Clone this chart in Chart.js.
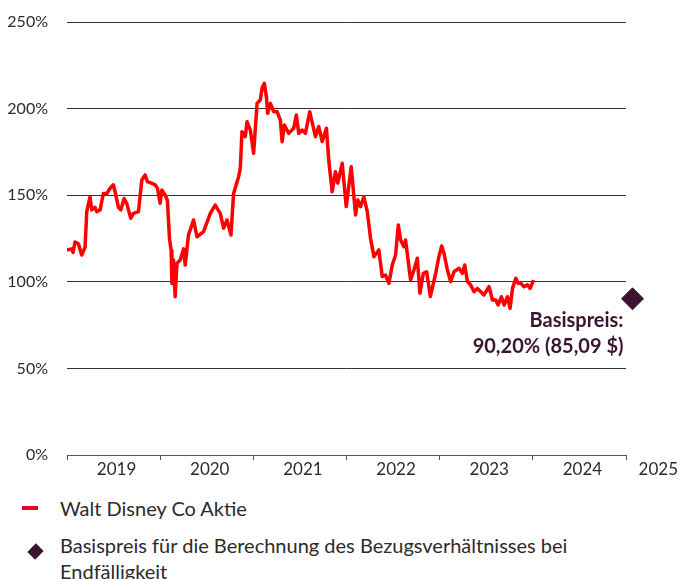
<!DOCTYPE html>
<html>
<head>
<meta charset="utf-8">
<script src="https://cdn.jsdelivr.net/npm/chart.js"></script>
<style>
  body { margin: 0; background: #fff; }
  #wrap { position: relative; width: 680px; height: 579px; font-family: Lato, "Noto Sans", sans-serif; color: #2b2b2b; }
  #chart { position: absolute; left: 0; top: 0; }
  .lg-line { position: absolute; left: 22px; top: 506px; width: 16px; height: 4px; background: #e4002b; }
  .lg-diamond { position: absolute; left: 30px; top: 546px; width: 11px; height: 11px; background: #3b1530; transform: rotate(45deg) scaleY(1.1); }
  .lg-text { position: absolute; left: 60px; font-size: 20px; line-height: 26px; white-space: nowrap; }
</style>
</head>
<body>
<div id="wrap">
  <canvas id="chart" width="680" height="480"></canvas>
  <div class="lg-line"></div>
  <div class="lg-text" style="top:495px">Walt Disney Co Aktie</div>
  <div class="lg-diamond"></div>
  <div class="lg-text" style="top:532px">Basispreis für die Berechnung des Bezugsverhältnisses bei<br>Endfälligkeit</div>
</div>
<script>
// year labels under the axis, one per year interval
const yearLabels = ['2019', '2020', '2021', '2022', '2023', '2024', '2025'];

// dates as decimal years, values in % of the strike reference
const dates = [
  2019.000, 2019.051, 2019.065, 2019.086, 2019.122, 2019.158, 2019.194, 2019.212, 2019.247, 2019.266,
  2019.301, 2019.319, 2019.355, 2019.390, 2019.427, 2019.462, 2019.498, 2019.516, 2019.552, 2019.577,
  2019.613, 2019.642, 2019.685, 2019.713, 2019.767, 2019.803, 2019.839, 2019.863, 2019.911, 2019.946,
  2019.971, 2020.000, 2020.018, 2020.054, 2020.078, 2020.100, 2020.118, 2020.126, 2020.143, 2020.161,
  2020.180, 2020.215, 2020.251, 2020.269, 2020.304, 2020.358, 2020.395, 2020.466, 2020.538, 2020.591,
  2020.645, 2020.681, 2020.717, 2020.760, 2020.788, 2020.842, 2020.860, 2020.878, 2020.914, 2020.932,
  2020.968, 2021.003, 2021.040, 2021.075, 2021.094, 2021.118, 2021.140, 2021.154, 2021.183, 2021.218,
  2021.255, 2021.290, 2021.309, 2021.333, 2021.380, 2021.433, 2021.462, 2021.487, 2021.524, 2021.559,
  2021.605, 2021.667, 2021.702, 2021.739, 2021.785, 2021.810, 2021.846, 2021.882, 2021.906, 2021.954,
  2021.997, 2022.051, 2022.097, 2022.122, 2022.151, 2022.186, 2022.223, 2022.258, 2022.294, 2022.347,
  2022.384, 2022.419, 2022.455, 2022.491, 2022.527, 2022.556, 2022.581, 2022.616, 2022.634, 2022.688,
  2022.724, 2022.760, 2022.788, 2022.825, 2022.860, 2022.900, 2022.957, 2022.992, 2023.022, 2023.046,
  2023.083, 2023.118, 2023.154, 2023.208, 2023.244, 2023.269, 2023.298, 2023.333, 2023.369, 2023.405,
  2023.441, 2023.476, 2023.530, 2023.567, 2023.602, 2023.627, 2023.663, 2023.692, 2023.728, 2023.756,
  2023.782, 2023.817, 2023.842, 2023.871, 2023.906, 2023.943, 2023.971, 2024.008
];
const disney = [
  118.4, 119.0, 117.0, 123.0, 122.0, 115.5, 120.0, 140.5, 149.0, 141.5,
  143.0, 140.5, 141.5, 151.0, 151.0, 154.0, 156.0, 152.0, 143.0, 141.5,
  148.0, 145.0, 136.7, 139.5, 140.5, 158.8, 161.7, 157.8, 156.9, 156.0,
  154.0, 145.3, 153.0, 150.0, 147.0, 125.0, 118.0, 99.0, 112.6, 91.4,
  110.7, 112.6, 119.0, 109.7, 127.0, 135.7, 126.0, 129.0, 139.5, 144.3,
  139.5, 131.0, 135.7, 127.0, 151.0, 160.7, 165.5, 186.7, 183.8, 192.4,
  187.6, 174.2, 203.0, 205.0, 211.7, 214.6, 206.9, 197.3, 203.0, 198.2,
  198.2, 193.4, 180.9, 190.5, 185.7, 188.6, 196.3, 185.7, 187.6, 185.7,
  198.2, 183.8, 189.6, 181.0, 188.6, 170.0, 152.0, 163.6, 157.0, 168.4,
  143.4, 166.4, 138.6, 147.2, 143.4, 149.1, 140.5, 125.1, 114.5, 118.4,
  103.0, 103.9, 99.1, 109.7, 115.5, 132.8, 124.1, 120.3, 124.1, 101.0,
  106.8, 113.6, 93.4, 104.9, 105.8, 91.5, 104.9, 114.5, 120.7, 116.5,
  106.8, 100.1, 105.8, 107.8, 104.9, 109.7, 100.1, 98.2, 94.3, 96.2,
  94.3, 92.4, 97.2, 89.5, 89.5, 86.6, 91.4, 86.6, 91.4, 84.7,
  96.2, 102.0, 99.1, 99.1, 97.2, 98.2, 96.2, 101.0
];

const strikeDate = 2025.07;
const strikePct = 90.2;
const strikeText = ['Basispreis:', '90,20% (85,09 $)'];

const FONT = 'Lato, "Noto Sans", sans-serif';
const darkRed = '#3b1530';

const yearLabelPlugin = {
  id: 'yearLabels',
  afterDraw(chart) {
    const c = chart.ctx;
    const x = chart.scales.x;
    c.save();
    c.font = '17px ' + FONT;
    c.fillStyle = '#2b2b2b';
    c.textAlign = 'center';
    c.textBaseline = 'middle';
    yearLabels.forEach((lab, i) => {
      const w = c.measureText(lab).width;
      let px = x.getPixelForValue(Number(lab) + 0.5) + 3;
      px = Math.min(px, chart.width - w / 2 - 2);
      c.fillText(lab, px, chart.chartArea.bottom + 15);
    });

    // strike annotation next to the diamond
    const pt = chart.getDatasetMeta(1).data[0];
    c.font = 'bold 20px ' + FONT;
    c.fillStyle = darkRed;
    c.textAlign = 'right';
    c.fillText(strikeText[0], pt.x - 9, pt.y + 22);
    c.fillText(strikeText[1], pt.x - 9, pt.y + 48);
    c.restore();
  }
};

new Chart(document.getElementById('chart'), {
  type: 'scatter',
  data: {
    datasets: [{
      label: 'Walt Disney Co Aktie',
      data: dates.map((d, i) => ({ x: d, y: disney[i] })),
      showLine: true,
      borderColor: '#ff0000',
      borderWidth: 3.5,
      pointRadius: 0,
      tension: 0,
      borderJoinStyle: 'round'
    }, {
      label: 'Basispreis',
      data: [{ x: strikeDate, y: strikePct }],
      pointStyle: 'rectRot',
      pointRadius: 11,
      backgroundColor: darkRed,
      borderColor: darkRed,
      clip: false
    }]
  },
  options: {
    responsive: false,
    animation: false,
    layout: { padding: { top: 22, right: 54, bottom: 20, left: 0 } },
    plugins: { legend: { display: false }, tooltip: { enabled: false } },
    scales: {
      x: {
        type: 'linear',
        min: 2019,
        max: 2025,
        ticks: { display: false, stepSize: 1 },
        grid: { drawOnChartArea: false, drawTicks: true, tickLength: 5, color: '#555' },
        border: { display: true, color: '#555' }
      },
      y: {
        min: 0,
        max: 250,
        ticks: {
          stepSize: 50,
          padding: 19,
          color: '#2b2b2b',
          font: { family: FONT, size: 16 },
          callback: v => v + '%'
        },
        grid: { color: '#333', lineWidth: 1, drawTicks: false },
        border: { display: false },
        afterFit(s) {
          s.width = 67;
          // keep the tick padding from pushing the plot inwards
          s.paddingTop = 0;
          s.paddingBottom = 0;
        }
      }
    }
  },
  plugins: [yearLabelPlugin]
});
</script>
</body>
</html>
